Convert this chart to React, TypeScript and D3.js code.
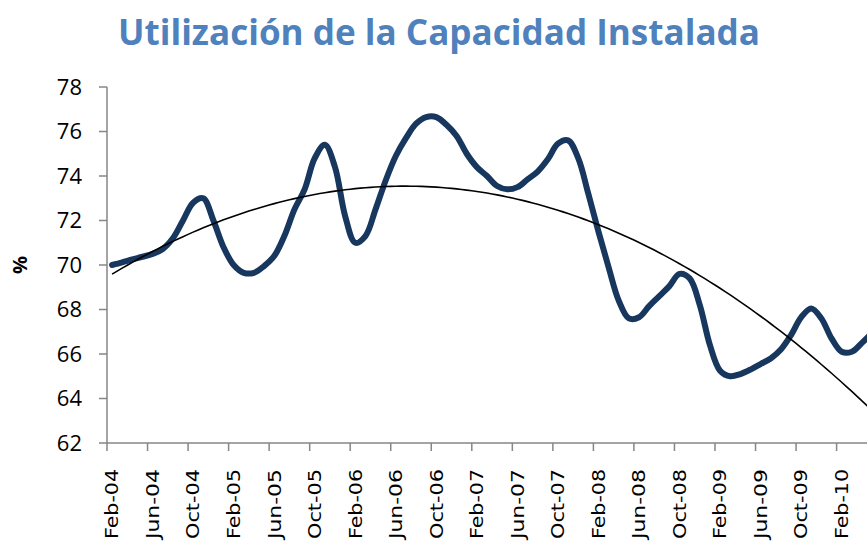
import React from "react";
import * as d3 from "d3";

// monthly utilisation (%), Feb-04 onwards
const startMonth = "Feb-04";
const values = [
  70.0, 70.12, 70.25, 70.37, 70.5, 70.72, 71.2, 72.0, 72.8, 73.0,
  72.0, 70.8, 70.0, 69.65, 69.65, 69.95, 70.4, 71.3, 72.5, 73.4,
  74.8, 75.4, 74.4, 72.2, 71.0, 71.3, 72.5, 73.8, 74.9, 75.7,
  76.35, 76.65, 76.65, 76.3, 75.8, 75.0, 74.4, 74.0, 73.55, 73.4,
  73.5, 73.85, 74.2, 74.75, 75.45, 75.6, 74.8, 73.2, 71.5, 69.9,
  68.4, 67.6, 67.65, 68.15, 68.6, 69.05, 69.6, 69.4, 68.2, 66.4,
  65.25, 65.0, 65.1, 65.3, 65.55, 65.8, 66.2, 66.85, 67.65, 68.05,
  67.6, 66.7, 66.1, 66.1, 66.5, 66.95,
];
const tickLabels = [
  "Feb-04", "Jun-04", "Oct-04", "Feb-05", "Jun-05", "Oct-05", "Feb-06",
  "Jun-06", "Oct-06", "Feb-07", "Jun-07", "Oct-07", "Feb-08", "Jun-08",
  "Oct-08", "Feb-09", "Jun-09", "Oct-09", "Feb-10",
];
const yTicks = [62, 64, 66, 68, 70, 72, 74, 76, 78];
const labelStep = 4;

// least squares quadratic (Excel polynomial trendline, order 2)
function quadFit(ys: number[]) {
  const s = [0, 0, 0, 0, 0];
  const t = [0, 0, 0];
  ys.forEach((y, x) => {
    for (let k = 0; k < 5; k++) s[k] += Math.pow(x, k);
    for (let k = 0; k < 3; k++) t[k] += y * Math.pow(x, k);
  });
  const m = [
    [s[0], s[1], s[2], t[0]],
    [s[1], s[2], s[3], t[1]],
    [s[2], s[3], s[4], t[2]],
  ];
  for (let i = 0; i < 3; i++) {
    for (let j = i + 1; j < 3; j++) {
      const f = m[j][i] / m[i][i];
      for (let k = i; k < 4; k++) m[j][k] -= f * m[i][k];
    }
  }
  const c = [0, 0, 0];
  for (let i = 2; i >= 0; i--) {
    let v = m[i][3];
    for (let k = i + 1; k < 3; k++) v -= m[i][k] * c[k];
    c[i] = v / m[i][i];
  }
  return (x: number) => c[0] + c[1] * x + c[2] * x * x;
}

export default function App() {
  const W = 867;
  const H = 541;
  const left = 107;
  const top = 87;
  const bottom = 443;
  const nShown = 75;

  const x = d3.scaleLinear().domain([-0.5, nShown - 0.5]).range([left, W]);
  const y = d3.scaleLinear().domain([62, 78]).range([bottom, top]);

  const line = d3
    .line<number>()
    .x((d, i) => x(i))
    .y((d) => y(d))
    .curve(d3.curveCatmullRom.alpha(0.5));

  const trend = quadFit(values);
  const trendPts = d3.range(0, values.length - 1 + 0.01, 0.5);
  const trendLine = d3
    .line<number>()
    .x((d) => x(d))
    .y((d) => y(trend(d)));

  const axisColor = "#868686";
  const ticksX = d3.range(0, nShown + 1, labelStep).map((i) => x(i - 0.5));

  return (
    <svg
      width={W}
      height={H}
      style={{ position: "absolute", left: 0, top: 0, background: "#fff" }}
    >
      <text
        x={439}
        y={45}
        textAnchor="middle"
        fill="#4F81BD"
        fontFamily="'Open Sans', sans-serif"
        fontWeight={700}
        fontSize={35}
        textLength={642}
        lengthAdjust="spacingAndGlyphs"
      >
        Utilización de la Capacidad Instalada
      </text>

      {/* y axis */}
      <line x1={left} x2={left} y1={top} y2={bottom} stroke={axisColor} strokeWidth={1.5} />
      {yTicks.map((t) => (
        <g key={t}>
          <line x1={left - 8} x2={left} y1={y(t)} y2={y(t)} stroke={axisColor} strokeWidth={1.5} />
          <text
            x={82}
            y={y(t)}
            dy="0.36em"
            textAnchor="end"
            fontFamily="'Open Sans', sans-serif"
            fontSize={22}
            fill="#000"
          >
            {t}
          </text>
        </g>
      ))}
      <text
        transform={`translate(20,${y(70)}) rotate(-90)`}
        textAnchor="middle"
        dy="0.35em"
        fontFamily="'Open Sans', sans-serif"
        fontWeight={700}
        fontSize={20}
      >
        %
      </text>

      {/* x axis */}
      <line x1={left} x2={W} y1={bottom} y2={bottom} stroke={axisColor} strokeWidth={1.5} />
      {ticksX.map((tx, k) => (
        <line key={k} x1={tx} x2={tx} y1={bottom} y2={bottom + 8} stroke={axisColor} strokeWidth={1.5} />
      ))}
      {tickLabels.map((lab, k) => (
        <text
          key={lab}
          transform={`translate(${x(k * labelStep)},469) rotate(-90)`}
          textAnchor="end"
          dy="0.35em"
          fontFamily="'DejaVu Sans', sans-serif"
          fontSize={18}
          textLength={70}
          lengthAdjust="spacingAndGlyphs"
          fill="#000"
        >
          {lab}
        </text>
      ))}

      <path
        d={line(values) || ""}
        fill="none"
        stroke="#17375E"
        strokeWidth={6}
        strokeLinecap="round"
        strokeLinejoin="round"
      />
      <path d={trendLine(trendPts) || ""} fill="none" stroke="#000" strokeWidth={1.6} />
    </svg>
  );
}
